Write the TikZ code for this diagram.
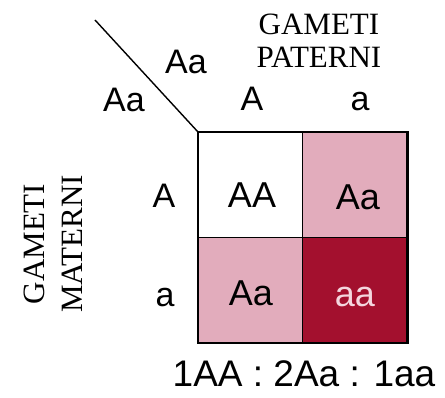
\documentclass[tikz,border=0pt]{standalone}
\usepackage{fontspec}
\setmainfont{Liberation Serif}
\newfontfamily\hv{Liberation Sans}
\definecolor{pinkc}{RGB}{226,172,188}
\definecolor{darkc}{RGB}{163,16,46}
\definecolor{lightt}{RGB}{244,214,222}
\begin{document}
\begin{tikzpicture}[x=1pt,y=-1pt,
  cell/.style={draw=black,line width=1.2pt,minimum width=104pt,minimum height=105pt,inner sep=0pt,anchor=north west},
  lab/.style={font=\hv\fontsize{34}{34}\selectfont,anchor=base,inner sep=0pt},
  big/.style={font=\hv\fontsize{36}{36}\selectfont,anchor=base,inner sep=0pt},
  serif/.style={font=\fontsize{31}{31}\selectfont,anchor=base,inner sep=0pt}]
\useasboundingbox (0,0) rectangle (445,398);
% cells
\node[cell,fill=white] (c11) at (198,132) {};
\node[cell,fill=pinkc] (c12) at (302,132) {};
\node[cell,fill=pinkc] (c21) at (198,237) {};
\node[cell,fill=darkc] (c22) at (302,237) {};
\draw[line width=2.6pt] (c11.north west) rectangle (c22.south east);
% diagonal
\coordinate (d0) at (95,20);
\draw[line width=1.4pt] (d0) -- (c11.north west);
% headers
\node[lab] (pAa) at (186,74) {Aa};
\node[lab] (mAa) at (124,112) {Aa};
\node[lab] (hA) at (252,111) {A};
\node[lab] (ha) at (360,111) {a};
\node[lab] (rA) at (164,208) {A};
\node[lab] (ra) at (165,307) {a};
% cell texts
\node[big] (tAA) at (252,208) {AA};
\node[big] (tAa1) at (358,210) {Aa};
\node[big] (tAa2) at (251,306) {Aa};
\node[big,text=lightt] (taa) at (355,307) {aa};
% gameti labels
\node[serif] (g1) at (319,35) {GAMETI};
\node[serif] (g2) at (319,68) {PATERNI};
\node[serif,rotate=90] (g3) at (45,244) {GAMETI};
\node[serif,rotate=90] (g4) at (82,244) {MATERNI};
% ratio
\node[big,font=\hv\fontsize{37}{37}\selectfont] (ratio) at (304,387) {1AA : 2Aa : 1aa};
\end{tikzpicture}
\end{document}
